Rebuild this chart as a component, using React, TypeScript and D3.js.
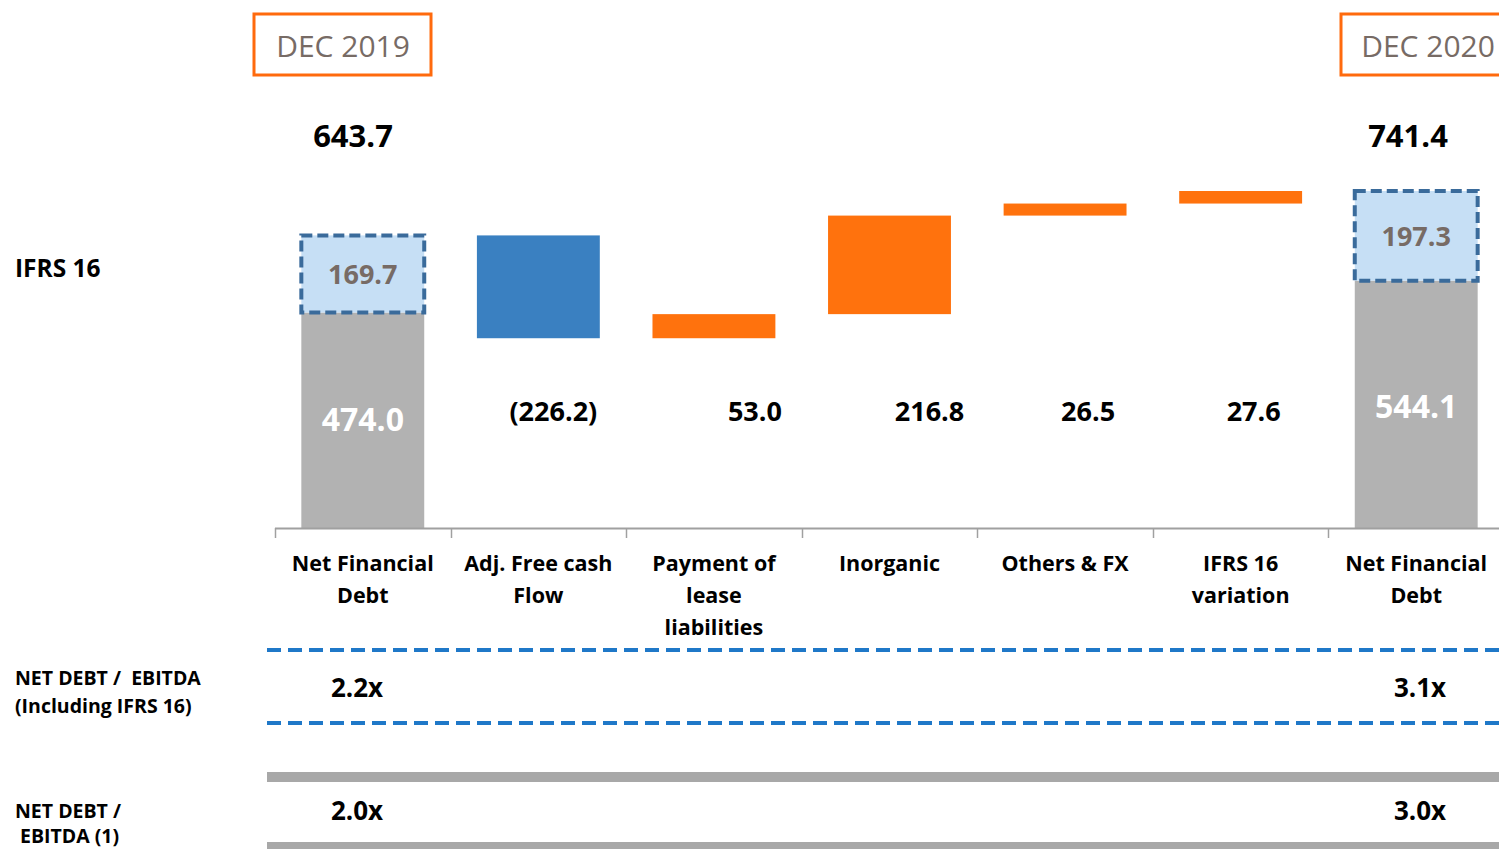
import React from "react";
import * as d3 from "d3";

const categories = ["Net Financial Debt", "Adj. Free cash Flow", "Payment of lease liabilities", "Inorganic", "Others & FX", "IFRS 16 variation", "Net Financial Debt "];
const categoryLines = [["Net Financial", "Debt"], ["Adj. Free cash", "Flow"], ["Payment of", "lease", "liabilities"], ["Inorganic"], ["Others & FX"], ["IFRS 16", "variation"], ["Net Financial", "Debt"]];
const deltas = [-226.2, 53.0, 216.8, 26.5, 27.6];
const deltaLabels = ["(226.2)", "53.0", "216.8", "26.5", "27.6"];
const startNFD = 474.0;
const startIFRS = 169.7;
const endNFD = 544.1;
const endIFRS = 197.3;
const periods = ["DEC 2019", "DEC 2020"];
const ratioInclIFRS = ["2.2x", "3.1x"];
const ratioExcl = ["2.0x", "3.0x"];

// layout: horizontal nudge of the delta labels (as in the source slide)
const deltaLabelDx = [15, 41, 40, 23, 13];

const FONT = "'Open Sans', 'Noto Sans', sans-serif";

export default function App() {
  const W = 1499, H = 849;
  const x = d3.scaleBand<string>().domain(categories).range([275, 1504]).paddingInner(0.3).paddingOuter(0.15);
  const y = d3.scaleLinear().domain([0, 741.4]).range([528, 191]);

  const bw = x.bandwidth();
  const cx = (i: number) => (x(categories[i]) as number) + bw / 2;

  let run = startNFD + startIFRS;
  const steps = deltas.map((d, i) => {
    const from = run;
    run = run + d;
    return { i: i + 1, from, to: run, d };
  });

  const startTotal = startNFD + startIFRS;
  const endTotal = endNFD + endIFRS;
  const tickX = d3.range(categories.length + 1).map((i) => Math.round(275 + x.step() * i) + 0.5);

  return (
    <svg width={W} height={H} style={{ position: "absolute", left: 0, top: 0, background: "#fff" }} fontFamily={FONT}>
      <rect x={0} y={0} width={W} height={H} fill="#fff" />
      {/* period boxes */}
      <rect x={254} y={14} width={177} height={61} fill="none" stroke="#ff6a0d" strokeWidth={3} />
      <text x={343} y={57} textAnchor="middle" fontSize={30} fill="#776b65">{periods[0]}</text>
      <rect x={1341} y={14} width={170} height={61} fill="none" stroke="#ff6a0d" strokeWidth={3} />
      <text x={1428} y={57} textAnchor="middle" fontSize={30} fill="#776b65">{periods[1]}</text>

      {/* totals */}
      <text x={353} y={147} textAnchor="middle" fontSize={31} fontWeight={700} fill="#000">{startTotal.toFixed(1)}</text>
      <text x={1408} y={147} textAnchor="middle" fontSize={31} fontWeight={700} fill="#000">{endTotal.toFixed(1)}</text>

      {/* left labels */}
      <text x={15} y={277} fontSize={24.5} fontWeight={700} fill="#000">IFRS 16</text>
      <text x={15} y={685} fontSize={19.5} fontWeight={700} fill="#000" style={{ whiteSpace: "pre" }}>{"NET DEBT /  EBITDA"}</text>
      <text x={15} y={713} fontSize={19.5} fontWeight={700} fill="#000">(Including IFRS 16)</text>
      <text x={15} y={818} fontSize={19.5} fontWeight={700} fill="#000">NET DEBT /</text>
      <text x={20} y={843} fontSize={19.5} fontWeight={700} fill="#000">EBITDA (1)</text>

      {/* start bar */}
      <rect x={x(categories[0])} y={y(startNFD)} width={bw} height={y(0) - y(startNFD)} fill="#b2b2b2" />
      <rect x={x(categories[0])} y={y(startTotal)} width={bw} height={y(startNFD) - y(startTotal)} fill="#c6dff5" stroke="#3a6b9b" strokeWidth={4} strokeDasharray="11 5" />
      <text x={cx(0)} y={(y(0) + y(startNFD)) / 2 + 11} textAnchor="middle" fontSize={32} fontWeight={700} fill="#fff">{startNFD.toFixed(1)}</text>
      <text x={cx(0)} y={(y(startNFD) + y(startTotal)) / 2 + 10} textAnchor="middle" fontSize={27} fontWeight={700} fill="#776b65">{startIFRS.toFixed(1)}</text>

      {/* end bar */}
      <rect x={x(categories[6])} y={y(endNFD)} width={bw} height={y(0) - y(endNFD)} fill="#b2b2b2" />
      <rect x={x(categories[6])} y={y(endTotal)} width={bw} height={y(endNFD) - y(endTotal)} fill="#c6dff5" stroke="#3a6b9b" strokeWidth={4} strokeDasharray="11 5" />
      <text x={cx(6)} y={418} textAnchor="middle" fontSize={32} fontWeight={700} fill="#fff">{endNFD.toFixed(1)}</text>
      <text x={cx(6)} y={(y(endNFD) + y(endTotal)) / 2 + 10} textAnchor="middle" fontSize={27} fontWeight={700} fill="#776b65">{endIFRS.toFixed(1)}</text>

      {/* steps */}
      {steps.map((s, k) => (
        <g key={k}>
          <rect x={x(categories[s.i])} y={y(Math.max(s.from, s.to))} width={bw} height={Math.abs(y(s.from) - y(s.to))} fill={s.d < 0 ? "#3a80c1" : "#ff720d"} />
          <text x={cx(s.i) + deltaLabelDx[k]} y={421} textAnchor="middle" fontSize={27} fontWeight={700} fill="#000">{deltaLabels[k]}</text>
        </g>
      ))}

      {/* axis */}
      <line x1={275} x2={W} y1={528.5} y2={528.5} stroke="#a0a0a0" strokeWidth={2} />
      {tickX.map((tx, i) => (
        <line key={i} x1={tx} x2={tx} y1={528} y2={538} stroke="#a0a0a0" strokeWidth={1.5} />
      ))}
      {categoryLines.map((lines, i) => (
        <text key={i} textAnchor="middle" fontSize={21.5} fontWeight={700} fill="#000">
          {lines.map((l, j) => (
            <tspan key={j} x={cx(i)} y={571 + j * 32}>{l}</tspan>
          ))}
        </text>
      ))}

      {/* ratio rows */}
      <line x1={267} x2={W} y1={650} y2={650} stroke="#1f78c8" strokeWidth={4} strokeDasharray="14 7" />
      <line x1={267} x2={W} y1={723} y2={723} stroke="#1f78c8" strokeWidth={4} strokeDasharray="14 7" />
      <text x={357} y={697} textAnchor="middle" fontSize={26} fontWeight={700} fill="#000">{ratioInclIFRS[0]}</text>
      <text x={1420} y={697} textAnchor="middle" fontSize={26} fontWeight={700} fill="#000">{ratioInclIFRS[1]}</text>
      <rect x={267} y={772} width={W - 267} height={10} fill="#a8a8a8" />
      <rect x={267} y={842} width={W - 267} height={10} fill="#a8a8a8" />
      <text x={357} y={820} textAnchor="middle" fontSize={26} fontWeight={700} fill="#000">{ratioExcl[0]}</text>
      <text x={1420} y={820} textAnchor="middle" fontSize={26} fontWeight={700} fill="#000">{ratioExcl[1]}</text>
    </svg>
  );
}
